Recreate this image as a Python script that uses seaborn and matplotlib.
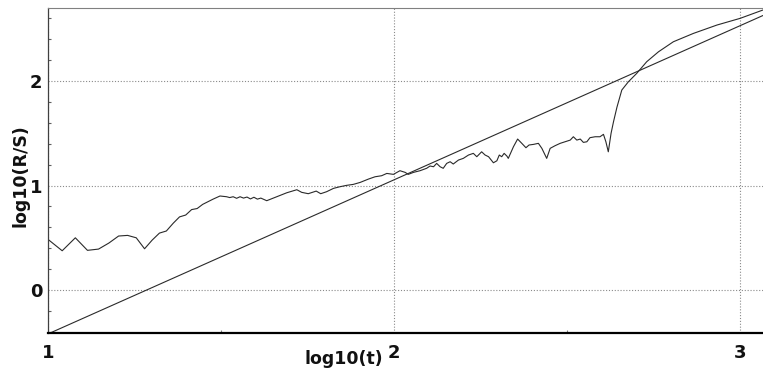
import numpy as np
import pandas as pd
import seaborn as sns
import matplotlib
matplotlib.use("Agg")
import matplotlib.pyplot as plt
from matplotlib.ticker import MultipleLocator, FixedLocator

# ---- data ----
log_t = [1.000, 1.041, 1.079, 1.114, 1.146, 1.176, 1.204, 1.230, 1.255, 1.279,
         1.301, 1.322, 1.342, 1.362, 1.380, 1.398, 1.415, 1.431, 1.447, 1.462,
         1.477, 1.497, 1.516, 1.525, 1.535, 1.545, 1.555, 1.565, 1.575, 1.585,
         1.595, 1.605, 1.615, 1.632, 1.661, 1.690, 1.719, 1.733, 1.752, 1.775,
         1.788, 1.805, 1.825, 1.844, 1.863, 1.882, 1.902, 1.926, 1.945, 1.964,
         1.979, 1.998, 2.017, 2.032, 2.041, 2.056, 2.075, 2.094, 2.104, 2.114,
         2.123, 2.133, 2.142, 2.152, 2.162, 2.171, 2.186, 2.200, 2.215, 2.229,
         2.239, 2.253, 2.263, 2.273, 2.287, 2.297, 2.304, 2.311, 2.318, 2.326,
         2.330, 2.345, 2.357, 2.369, 2.381, 2.390, 2.403, 2.417, 2.427, 2.434,
         2.441, 2.451, 2.465, 2.480, 2.494, 2.509, 2.518, 2.528, 2.538, 2.547,
         2.557, 2.566, 2.581, 2.595, 2.605, 2.612, 2.619, 2.627, 2.634, 2.644,
         2.658, 2.677, 2.701, 2.730, 2.764, 2.807, 2.865, 2.933, 3.000, 3.066]
log_rs = [0.485, 0.376, 0.500, 0.380, 0.392, 0.450, 0.517, 0.523, 0.500, 0.395,
          0.478, 0.545, 0.565, 0.640, 0.700, 0.718, 0.770, 0.780, 0.820, 0.845,
          0.870, 0.900, 0.893, 0.885, 0.893, 0.878, 0.893, 0.880, 0.890, 0.872,
          0.888, 0.870, 0.880, 0.855, 0.893, 0.931, 0.960, 0.935, 0.922, 0.947,
          0.922, 0.941, 0.973, 0.989, 1.002, 1.011, 1.030, 1.062, 1.084, 1.094,
          1.116, 1.107, 1.142, 1.126, 1.107, 1.126, 1.142, 1.165, 1.187, 1.180,
          1.212, 1.180, 1.165, 1.212, 1.228, 1.206, 1.244, 1.260, 1.292, 1.308,
          1.276, 1.323, 1.292, 1.276, 1.218, 1.237, 1.292, 1.276, 1.308, 1.282,
          1.260, 1.372, 1.445, 1.404, 1.362, 1.388, 1.394, 1.404, 1.356, 1.308,
          1.260, 1.356, 1.381, 1.404, 1.419, 1.435, 1.467, 1.435, 1.445, 1.413,
          1.419, 1.458, 1.467, 1.467, 1.490, 1.419, 1.323, 1.500, 1.610, 1.750,
          1.914, 1.993, 2.073, 2.185, 2.280, 2.376, 2.456, 2.536, 2.600, 2.680]

fit_slope = 1.475
fit_intercept = -1.895

x_ticks = [1, 2, 3]
x_minor_ticks = [1.5, 2.5]
y_ticks = [0, 1, 2]
x_label = "log10(t)"
y_label = "log10(R/S)"

# ---- plot ----
sns.set_theme(style="white")
plt.rcParams["font.family"] = ["DejaVu Sans"]

fig = plt.figure(figsize=(7.63, 3.69), dpi=100)
ax = fig.add_axes([48 / 763, 1 - 333 / 369, 1 - 48 / 763, (333 - 8) / 369])

xlim = (1.0, 3.066)
ylim = (-0.411, 2.699)

df = pd.DataFrame({"x": log_t, "y": log_rs})
sns.lineplot(data=df, x="x", y="y", ax=ax, sort=False, estimator=None,
             color="#2a2a2a", linewidth=0.8)

fit_x = np.array(xlim)
fit_df = pd.DataFrame({"x": fit_x, "y": fit_slope * fit_x + fit_intercept})
sns.lineplot(data=fit_df, x="x", y="y", ax=ax, sort=False, estimator=None,
             color="#2a2a2a", linewidth=0.8)

ax.set_xlim(*xlim)
ax.set_ylim(*ylim)

ax.xaxis.set_major_locator(FixedLocator(x_ticks))
ax.yaxis.set_major_locator(FixedLocator(y_ticks))
ax.xaxis.set_minor_locator(FixedLocator(x_minor_ticks))
ax.yaxis.set_minor_locator(MultipleLocator(0.2))

ax.grid(True, which="major", linestyle=(0, (1.0, 1.6)), color="#8a8a8a", linewidth=0.8)

ax.spines["right"].set_visible(False)
ax.spines["top"].set_color("#808080")
ax.spines["top"].set_linewidth(0.8)
ax.spines["left"].set_color("#404040")
ax.spines["left"].set_linewidth(0.9)
ax.spines["bottom"].set_color("#000000")
ax.spines["bottom"].set_linewidth(1.6)

ax.tick_params(axis="x", which="major", direction="in", length=3, width=0.8,
               color="#808080", pad=8, labelsize=13)
ax.tick_params(axis="x", which="minor", direction="in", length=2, width=0.8,
               color="#808080", bottom=True)
ax.tick_params(axis="y", which="major", direction="in", length=0, pad=4, labelsize=13)
ax.tick_params(axis="y", which="minor", direction="in", length=2.5, width=0.8,
               color="#606060", left=True)
for lab in ax.get_xticklabels() + ax.get_yticklabels():
    lab.set_fontweight("bold")
    lab.set_color("#111111")

ax.set_xlabel(x_label, fontsize=12.5, fontweight="bold", color="#111111")
ax.set_ylabel(y_label, fontsize=12.5, fontweight="bold", color="#111111")
ax.xaxis.set_label_coords(0.414, -0.08)
ax.xaxis.label.set_va("center")
ax.yaxis.set_label_coords(-0.039, 0.483)
ax.yaxis.label.set_va("center")

fig.savefig("out.png", dpi=100)
